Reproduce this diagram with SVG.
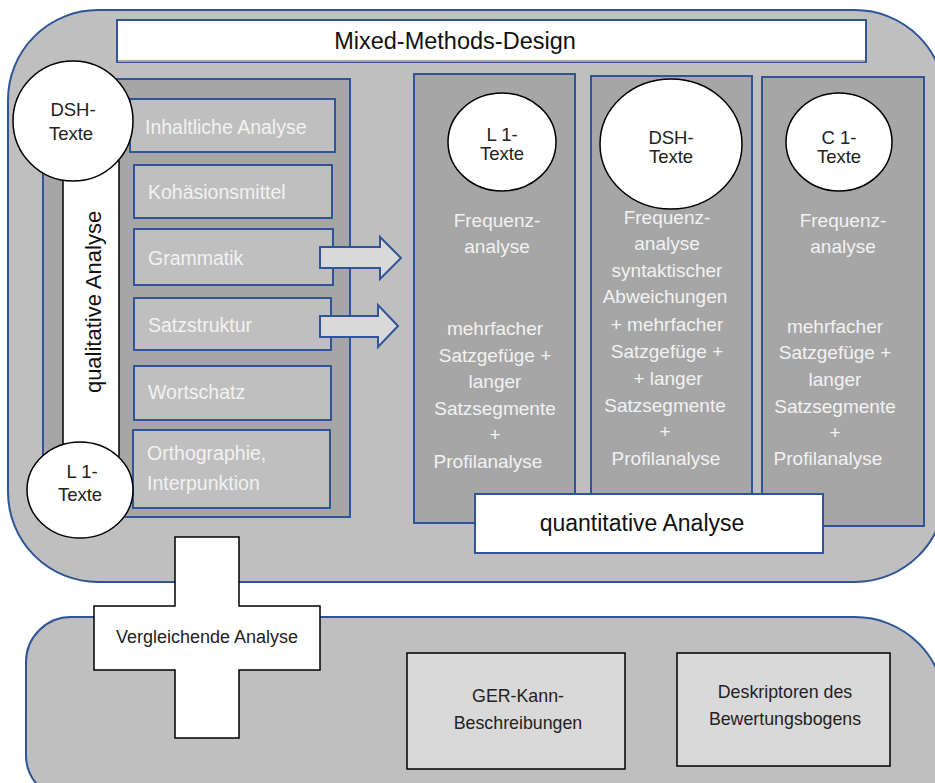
<svg xmlns="http://www.w3.org/2000/svg" width="935" height="783" viewBox="0 0 935 783">
<style>
text{font-family:"Liberation Sans",Arial,sans-serif}
.blue{stroke:#2f5597;stroke-width:2}
.dark{fill:#a6a6a6}
.light{fill:#bfbfbf}
.box{fill:#bfbfbf;stroke:#2f5597;stroke-width:2}
.wt{fill:#f2f2f2;font-size:19.5px}
.ct{fill:#f2f2f2;font-size:19px;text-anchor:middle}
.bt{fill:#222;text-anchor:middle}
.circ{fill:#fff;stroke:#000;stroke-width:1.5}
.arrow{fill:#d9d9d9;stroke:#2f5597;stroke-width:2}
</style>
<rect width="935" height="783" fill="#fff"/>
<g id="outer-top">
<path class="light blue" d="M98,10 H855 A90,90 0 0 1 945,100 V492 A90,90 0 0 1 855,582 H98 A90,90 0 0 1 8,492 V100 A90,90 0 0 1 98,10 Z"/>
</g>
<g id="outer-bottom">
<path class="light blue" d="M71,617 H855 A90,90 0 0 1 945,707 V800 H71 A45,45 0 0 1 26,755 V662 A45,45 0 0 1 71,617 Z"/>
</g>
<g id="title">
<rect x="117" y="20" width="749" height="42" fill="#fff" class="blue"/>
<line x1="118" y1="61" x2="865" y2="61" stroke="#a6a6a6" stroke-width="2"/>
<text x="455" y="49" font-size="23.5" text-anchor="middle" fill="#111">Mixed-Methods-Design</text>
</g>
<g id="qual-frame">
<path class="dark blue" d="M117,79 H350 V517 H43 V165 H117 Z"/>
</g>
<g id="qual-bar">
<rect x="63" y="161" width="56" height="301" fill="#fff" stroke="#000" stroke-width="1.5"/>
<text transform="translate(101,302) rotate(-90)" font-size="22" text-anchor="middle" fill="#111">qualitative Analyse</text>
</g>
<g id="box-inhalt"><rect class="box" x="130" y="99" width="205" height="53"/><text class="wt" x="145" y="134">Inhaltliche Analyse</text></g>
<g id="box-kohaesion"><rect class="box" x="134" y="165" width="198" height="53"/><text class="wt" x="148" y="199">Kohäsionsmittel</text></g>
<g id="box-grammatik"><rect class="box" x="134" y="229" width="199" height="56"/><text class="wt" x="148" y="265">Grammatik</text></g>
<g id="box-satz"><rect class="box" x="134" y="298" width="197" height="52"/><text class="wt" x="148" y="332">Satzstruktur</text></g>
<g id="box-wortschatz"><rect class="box" x="134" y="366" width="197" height="54"/><text class="wt" x="148" y="399">Wortschatz</text></g>
<g id="box-ortho"><rect class="box" x="133" y="430" width="197" height="78"/><text class="wt" x="147" y="460">Orthographie,</text><text class="wt" x="147" y="490">Interpunktion</text></g>
<g id="circle-dsh-left">
<circle class="circ" cx="73" cy="121" r="60"/>
<text class="bt" x="73" y="116" font-size="18.5">DSH-</text>
<text class="bt" x="71" y="140" font-size="18.5">Texte</text>
</g>
<g id="circle-l1-left">
<ellipse class="circ" cx="80" cy="490" rx="53" ry="48"/>
<text class="bt" x="82" y="478" font-size="18.5">L 1-</text>
<text class="bt" x="80" y="501" font-size="18.5">Texte</text>
</g>
<g id="connectors">
<path class="arrow" d="M320,247 H380 V237 L401,258 L380,279 V268 H320 Z"/>
<path class="arrow" d="M320,316 H378 V305 L398,326 L378,347 V337 H320 Z"/>
</g>
<g id="col-l1">
<rect class="dark blue" x="414" y="74" width="161" height="449"/>
<ellipse class="circ" cx="502" cy="142" rx="54" ry="49" stroke-width="1"/>
<text class="bt" x="502" y="141" font-size="18.5">L 1-</text>
<text class="bt" x="502" y="160" font-size="18.5">Texte</text>
<text class="ct" x="497" y="227">Frequenz-</text>
<text class="ct" x="497" y="253">analyse</text>
<text class="ct" x="495" y="335">mehrfacher</text>
<text class="ct" x="495" y="362">Satzgefüge +</text>
<text class="ct" x="495" y="388">langer</text>
<text class="ct" x="495" y="415">Satzsegmente</text>
<text class="ct" x="495" y="441">+</text>
<text class="ct" x="488" y="468">Profilanalyse</text>
</g>
<g id="col-dsh">
<rect class="dark blue" x="591" y="76" width="161" height="420"/>
<ellipse class="circ" cx="671" cy="144" rx="71" ry="65" stroke-width="1"/>
<text class="bt" x="671" y="144" font-size="18.5">DSH-</text>
<text class="bt" x="671" y="163" font-size="18.5">Texte</text>
<text class="ct" x="667" y="224">Frequenz-</text>
<text class="ct" x="667" y="250">analyse</text>
<text class="ct" x="667" y="277">syntaktischer</text>
<text class="ct" x="665" y="303">Abweichungen</text>
<text class="ct" x="667" y="331">+ mehrfacher</text>
<text class="ct" x="667" y="358">Satzgefüge +</text>
<text class="ct" x="668" y="385">+ langer</text>
<text class="ct" x="665" y="412">Satzsegmente</text>
<text class="ct" x="665" y="438">+</text>
<text class="ct" x="666" y="465">Profilanalyse</text>
</g>
<g id="col-c1">
<rect class="dark blue" x="762" y="77" width="162" height="449"/>
<ellipse class="circ" cx="839" cy="142" rx="53" ry="49" stroke-width="1"/>
<text class="bt" x="839" y="144" font-size="18.5">C 1-</text>
<text class="bt" x="839" y="163" font-size="18.5">Texte</text>
<text class="ct" x="843" y="227">Frequenz-</text>
<text class="ct" x="843" y="253">analyse</text>
<text class="ct" x="835" y="333">mehrfacher</text>
<text class="ct" x="835" y="359">Satzgefüge +</text>
<text class="ct" x="835" y="386">langer</text>
<text class="ct" x="835" y="413">Satzsegmente</text>
<text class="ct" x="835" y="439">+</text>
<text class="ct" x="828" y="465">Profilanalyse</text>
</g>
<g id="quant">
<rect x="475" y="494" width="348" height="59" fill="#fff" class="blue"/>
<text x="642" y="531" font-size="23" text-anchor="middle" fill="#111">quantitative Analyse</text>
</g>
<g id="cross">
<path d="M175,537 H239 V606 H320 V670 H239 V738 H175 V670 H94 V606 H175 Z" fill="#fff" stroke="#000" stroke-width="1.5"/>
<text class="bt" x="207" y="643" font-size="18">Vergleichende Analyse</text>
</g>
<g id="ger">
<rect x="407" y="653" width="218" height="116" fill="#d9d9d9" stroke="#000" stroke-width="1.5"/>
<text class="bt" x="518" y="702" font-size="17.8">GER-Kann-</text>
<text class="bt" x="518" y="729" font-size="17.8">Beschreibungen</text>
</g>
<g id="deskriptoren">
<rect x="677" y="653" width="213" height="113" fill="#d9d9d9" stroke="#000" stroke-width="1.5"/>
<text class="bt" x="785" y="698" font-size="17.8">Deskriptoren des</text>
<text class="bt" x="785" y="725" font-size="17.8">Bewertungsbogens</text>
</g>
</svg>
